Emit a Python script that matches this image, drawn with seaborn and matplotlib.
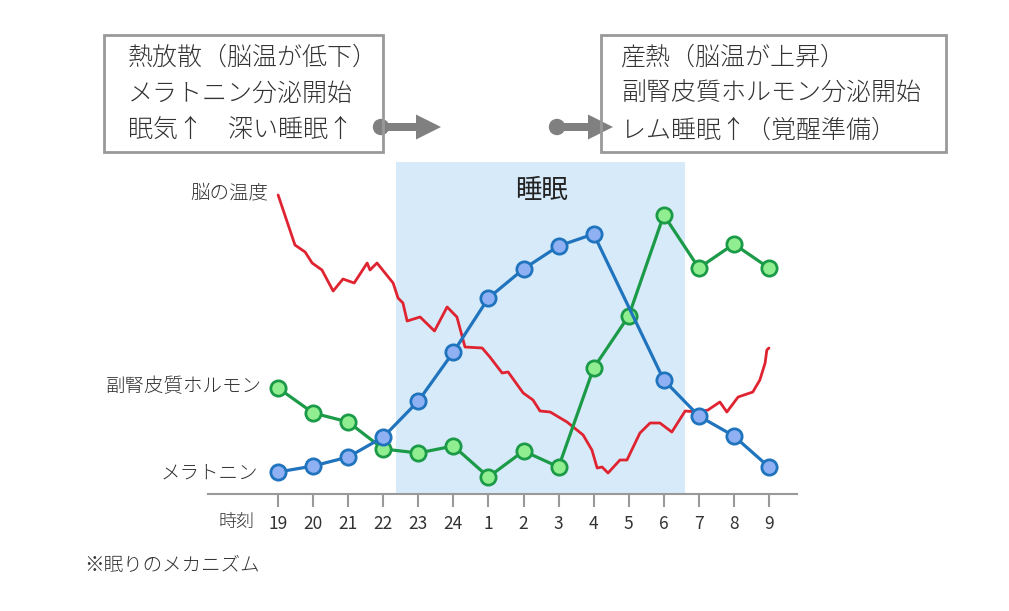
import numpy as np
import pandas as pd
import matplotlib
matplotlib.use("Agg")
import matplotlib.pyplot as plt
import seaborn as sns
from matplotlib.patches import Rectangle, FancyArrow, Circle

sns.set_theme(style="white")
plt.rcParams['font.family'] = ['Noto Sans CJK JP', 'DejaVu Sans']

# ---- data ----
hour_labels = ["19", "20", "21", "22", "23", "24", "1", "2", "3", "4", "5", "6", "7", "8", "9"]
# melatonin (no reading at 5)
mel_pos = [0, 1, 2, 3, 4, 5, 6, 7, 8, 9, 11, 12, 13, 14]
mel_val = [22, 28, 37, 57, 93, 142, 196, 225, 248, 260, 114, 78, 58, 27]
# adrenocortical hormone
cort_pos = list(range(15))
cort_val = [106, 81, 72, 45, 41, 48, 17, 43, 27, 126, 178, 279, 226, 250, 226]
# brain temperature (fractional hour index, level)
temp_pos = [0.00, 0.48, 0.77, 0.97, 1.25, 1.57, 1.85, 2.17, 2.54, 2.62, 2.82, 3.28, 3.42, 3.56,
            3.68, 4.05, 4.46, 4.82, 5.10, 5.33, 5.82, 6.04, 6.39, 6.56, 6.99, 7.27, 7.47,
            7.76, 8.24, 8.70, 8.95, 9.10, 9.24, 9.41, 9.75, 9.95, 10.32, 10.61, 10.89, 11.23,
            11.61, 11.98, 12.26, 12.60, 12.80, 13.12, 13.54, 13.74, 13.89, 13.94, 14.00]
temp_val = [299, 249, 242, 231, 224, 203, 215, 211, 231, 224, 231, 211, 196, 191, 173, 177,
            163, 187, 177, 147, 146, 137, 121, 122, 101, 94, 83, 82, 72, 59, 44, 26, 27, 21,
            34, 34, 61, 71, 71, 62, 83, 82, 84, 92, 82, 97, 102, 114, 131, 144, 146]

mel = pd.DataFrame({"pos": mel_pos, "val": mel_val})
cort = pd.DataFrame({"pos": cort_pos, "val": cort_val})
temp = pd.DataFrame({"pos": temp_pos, "val": temp_val})

W, H = 1009, 611
fig = plt.figure(figsize=(W / 100, H / 100), dpi=100)
ax = fig.add_axes([208 / W, (H - 494) / H, (797 - 208) / W, (494 - 160) / H])
ax.set_xlim(-2.0, 14.8)
ax.set_ylim(0, 334)

# sleep band
ax.axvspan(3.36, 11.6, ymin=0, ymax=(494 - 162) / 334, color="#d7eaf9", zorder=0, lw=0)
ax.text(7.52, 303, "睡眠", ha="center", va="center", fontsize=19, color="#222222")

sns.lineplot(data=temp, x="pos", y="val", sort=False, color="#e02330", lw=2.0, ax=ax, zorder=2)
sns.lineplot(data=cort, x="pos", y="val", color="#1b9a48", lw=2.3, marker="o", markersize=11,
             markerfacecolor="#90ee90", markeredgecolor="#1b9a48", markeredgewidth=2.0, ax=ax, zorder=3)
sns.lineplot(data=mel, x="pos", y="val", color="#1f74bd", lw=2.3, marker="o", markersize=11,
             markerfacecolor="#8fb1f4", markeredgecolor="#1f74bd", markeredgewidth=2.0, ax=ax, zorder=4)

# axes styling
for s in ["left", "right", "top"]:
    ax.spines[s].set_visible(False)
ax.spines["bottom"].set_color("#999999")
ax.spines["bottom"].set_linewidth(1.5)
ax.set_yticks([])
ax.set_xticks(range(15))
ax.set_xticklabels(hour_labels)
ax.tick_params(axis="x", direction="out", length=9, width=1.5, color="#999999",
               labelsize=12.5, labelcolor="#333333", pad=6, bottom=True)
ax.set_xlabel("")
ax.set_ylabel("")

# series labels
def ftext(px, py, s, **kw):
    fig.text(px / W, 1 - py / H, s, **kw)

lab = dict(fontsize=14, color="#333333", fontweight="light")
ftext(268, 193, "脳の温度", ha="right", va="center", **lab)
ftext(262, 387, "副腎皮質ホルモン", ha="right", va="center", **lab)
ftext(258, 473, "メラトニン", ha="right", va="center", **lab)
ftext(236, 522, "時刻", ha="center", va="center", fontsize=13, color="#333333", fontweight="light")
ftext(84, 566, "※眠りのメカニズム", ha="left", va="center", **lab)

# boxes
def fbox(x0, y0, x1, y1):
    r = Rectangle((x0 / W, 1 - y1 / H), (x1 - x0) / W, (y1 - y0) / H, transform=fig.transFigure,
                  fill=False, edgecolor="#999999", lw=2.0)
    fig.patches.append(r)

fbox(104, 35, 383, 152)
fbox(601, 35, 946, 152)
left_lines = ["熱放散（脳温が低下）", "メラトニン分泌開始", "眠気↑　深い睡眠↑"]
right_lines = ["産熱（脳温が上昇）", "副腎皮質ホルモン分泌開始", "レム睡眠↑（覚醒準備）"]
for i, (a, b) in enumerate(zip(left_lines, right_lines)):
    y = 57 + i * 36.5
    ftext(128, y, a, ha="left", va="center", fontsize=18, color="#333333", fontweight="light")
    ftext(621, y, b, ha="left", va="center", fontsize=18, color="#333333", fontweight="light")

# arrows
ov = fig.add_axes([0, 0, 1, 1], facecolor="none")
ov.set_xlim(0, W); ov.set_ylim(H, 0); ov.axis("off")

def farrow(xs, xe, y):
    ov.add_patch(Circle((xs, y), 7.5, color="#808080"))
    ov.add_patch(FancyArrow(xs, y, xe - xs, 0, width=8, head_width=25, head_length=25,
                            length_includes_head=True, color="#808080", lw=0))

farrow(381, 441, 127)
farrow(557, 613, 127)

fig.savefig("out.png", dpi=100)
